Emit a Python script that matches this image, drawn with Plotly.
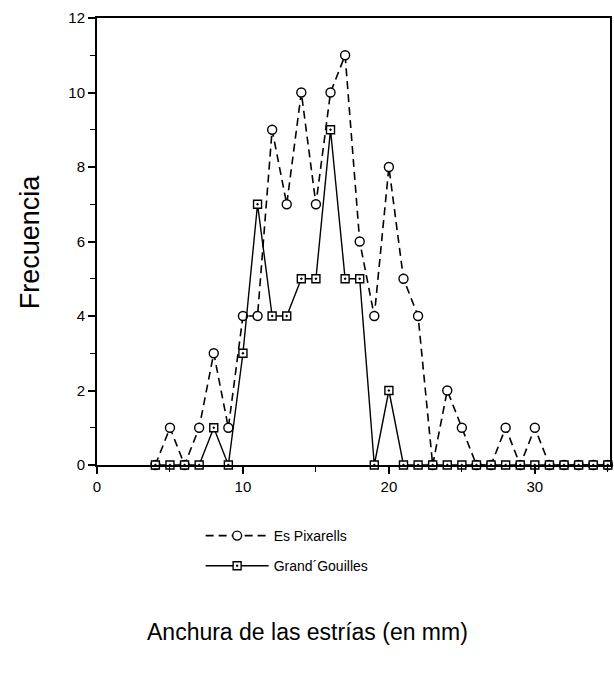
import plotly.graph_objects as go

x_vals = list(range(4, 36))
es_pixarells = [0, 1, 0, 1, 3, 1, 4, 4, 9, 7, 10, 7, 10, 11, 6, 4, 8, 5, 4, 0,
                2, 1, 0, 0, 1, 0, 1, 0, 0, 0, 0, 0]
grand_gouilles = [0, 0, 0, 0, 1, 0, 3, 7, 4, 4, 5, 5, 9, 5, 5, 0, 2, 0, 0, 0,
                  0, 0, 0, 0, 0, 0, 0, 0, 0, 0, 0, 0]
x_ticks = [0, 10, 20, 30]
y_ticks = [0, 2, 4, 6, 8, 10, 12]

font = "Liberation Sans, Arial, sans-serif"

fig = go.Figure()
fig.add_trace(go.Scatter(
    x=x_vals, y=es_pixarells, name="Es Pixarells", mode="lines+markers",
    legendgroup="a",
    line=dict(color="black", width=1.6, dash="8px,5px"),
    marker=dict(symbol="circle", size=9, color="white",
                line=dict(color="black", width=1.4)),
    cliponaxis=False,
))
fig.add_trace(go.Scatter(
    x=x_vals, y=grand_gouilles, name="Grand´Gouilles", mode="lines+markers",
    legendgroup="b",
    line=dict(color="black", width=1.4),
    marker=dict(symbol="square-dot", size=8, color="white",
                line=dict(color="black", width=1.4)),
    cliponaxis=False,
))

fig.update_layout(
    width=614, height=677,
    margin=dict(l=97, r=2, t=18, b=212),
    paper_bgcolor="white", plot_bgcolor="white",
    font=dict(family=font, color="black", size=14),
    showlegend=True,
    legend=dict(x=0.202, y=-0.123, xanchor="left", yanchor="top",
                font=dict(size=14), itemwidth=63, tracegroupgap=9,
                bgcolor="rgba(0,0,0,0)"),
    xaxis=dict(range=[0, 35.15], tickvals=x_ticks, ticks="outside",
               ticklen=7, tickwidth=1.6, tickcolor="black",
               showline=True, linecolor="black", linewidth=2, mirror=True,
               showgrid=False, zeroline=False,
               minor=dict(dtick=5, tick0=0, ticks="outside", ticklen=5,
                          tickwidth=1.3, tickcolor="black"),
               tickfont=dict(size=15)),
    yaxis=dict(range=[0, 12], tickvals=y_ticks, ticks="outside",
               ticklen=7, tickwidth=1.6, tickcolor="black",
               showline=True, linecolor="black", linewidth=2, mirror=True,
               showgrid=False, zeroline=False,
               minor=dict(dtick=1, tick0=0, ticks="outside", ticklen=5,
                          tickwidth=1.3, tickcolor="black"),
               tickfont=dict(size=15)),
    annotations=[
        dict(text="Frecuencia", xref="paper", yref="paper",
             x=(30 - 97) / 515, y=(465 - 242) / 447,
             xanchor="center", yanchor="middle",
             textangle=-90, showarrow=False, font=dict(size=27)),
        dict(text="Anchura de las estrías (en mm)", xref="paper", yref="paper",
             x=(308 - 97) / 515, y=(465 - 632) / 447,
             xanchor="center", yanchor="middle",
             showarrow=False, font=dict(size=23)),
    ],
)

fig.write_html("out.html", config={"displayModeBar": False},
               post_script="document.body.style.margin='0px';")
